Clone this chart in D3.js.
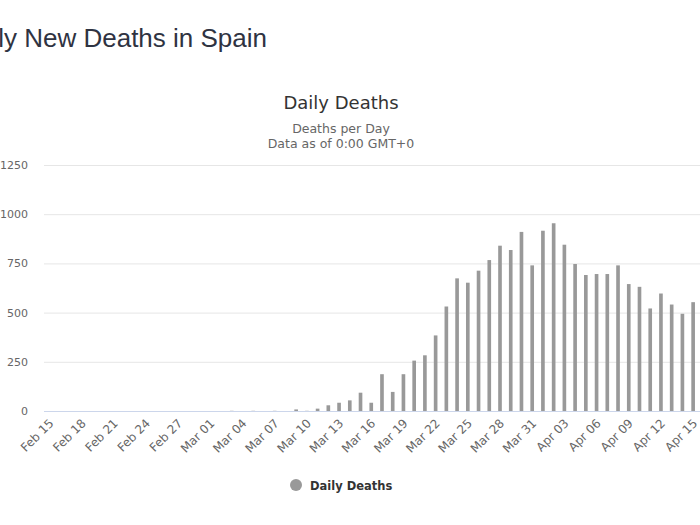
<!DOCTYPE html>
<html><head><meta charset="utf-8">
<script src="https://cdn.jsdelivr.net/npm/d3@7"></script>
<style>
html,body{margin:0;padding:0;background:#fff;overflow:hidden;}
svg{display:block;}
</style>
</head><body>
<svg id="chart" width="700" height="525"></svg>
<script>
const categories = [
 "Feb 15","Feb 16","Feb 17","Feb 18","Feb 19","Feb 20","Feb 21","Feb 22","Feb 23","Feb 24","Feb 25","Feb 26","Feb 27","Feb 28","Feb 29",
 "Mar 01","Mar 02","Mar 03","Mar 04","Mar 05","Mar 06","Mar 07","Mar 08","Mar 09","Mar 10","Mar 11","Mar 12","Mar 13","Mar 14","Mar 15",
 "Mar 16","Mar 17","Mar 18","Mar 19","Mar 20","Mar 21","Mar 22","Mar 23","Mar 24","Mar 25","Mar 26","Mar 27","Mar 28","Mar 29","Mar 30","Mar 31",
 "Apr 01","Apr 02","Apr 03","Apr 04","Apr 05","Apr 06","Apr 07","Apr 08","Apr 09","Apr 10","Apr 11","Apr 12","Apr 13","Apr 14","Apr 15"
];
const dailyDeaths = [
 0,0,0,0,0,0,0,0,0,0,0,0,0,0,0,
 0,0,1,0,1,0,1,0,8,1,12,29,42,54,93,
 42,187,97,187,256,283,384,531,674,652,713,767,840,818,910,740,
 916,954,845,747,691,696,696,740,645,631,521,597,541,494,553
];
const yTicks = [0,250,500,750,1000,1250];
const xTickLabels = categories.filter((d,i)=>i%3===0);
const pageTitle = "Daily New Deaths in Spain";
const chartTitle = "Daily Deaths";
const subtitleLines = ["Deaths per Day","Data as of 0:00 GMT+0"];
const seriesName = "Daily Deaths";

const svg = d3.select("#chart");
const mLeft = 44, mRight = 698.5, mTop = 165, mBottom = 411;
const x = d3.scaleBand().domain(categories).range([mLeft,mRight]).paddingInner(0.66).paddingOuter(0.33);
const y = d3.scaleLinear().domain([0,1250]).range([mBottom,mTop]);

svg.append("text").attr("x",267).attr("y",47).attr("text-anchor","end")
  .attr("font-family","Liberation Sans, Arial, sans-serif").attr("font-size",26)
  .attr("fill","#2f3342").text(pageTitle);

svg.append("text").attr("x",341).attr("y",109).attr("text-anchor","middle")
  .attr("font-family","DejaVu Sans, sans-serif").attr("font-size",18)
  .attr("fill","#333").text(chartTitle);
svg.selectAll(".sub").data(subtitleLines).enter().append("text")
  .attr("x",341).attr("y",(d,i)=>132.5+i*15).attr("text-anchor","middle")
  .attr("font-family","DejaVu Sans, sans-serif").attr("font-size",12.5)
  .attr("fill","#666").text(d=>d);

// grid
const yAxis = d3.axisLeft(y).tickValues(yTicks).tickSize(-(700-mLeft)).tickFormat(d3.format("d")).tickPadding(16);
const gy = svg.append("g").attr("transform",`translate(${mLeft},0)`).call(yAxis);
gy.select(".domain").remove();
gy.selectAll("line").attr("stroke","#e6e6e6");
gy.selectAll("text").attr("font-family","DejaVu Sans, sans-serif").attr("font-size",11).attr("fill","#666");

// bars
svg.append("g").selectAll("rect").data(categories).enter().append("rect")
  .attr("x",d=>x(d)).attr("width",x.bandwidth())
  .attr("y",(d,i)=>y(dailyDeaths[i])).attr("height",(d,i)=>y(0)-y(dailyDeaths[i]))
  .attr("fill","#999");

// x axis
const xAxis = d3.axisBottom(x).tickValues(xTickLabels).tickSize(0).tickPadding(0);
const gx = svg.append("g").attr("transform",`translate(0,${mBottom})`).call(xAxis);
gx.select(".domain").attr("d",`M${mLeft},0.5H700`).attr("stroke","#ccd6eb");
gx.selectAll("text").attr("font-family","DejaVu Sans, sans-serif").attr("font-size",12).attr("fill","#666")
  .attr("text-anchor","end").attr("dy",null).attr("y",null)
  .attr("transform","translate(5,13) rotate(-45)");

// legend
svg.append("circle").attr("cx",296).attr("cy",485).attr("r",6).attr("fill","#999");
svg.append("text").attr("x",310).attr("y",489.5).attr("font-family","DejaVu Sans, sans-serif")
  .attr("font-size",11.5).attr("font-weight","bold").attr("fill","#333").text(seriesName);
</script>
</body></html>
